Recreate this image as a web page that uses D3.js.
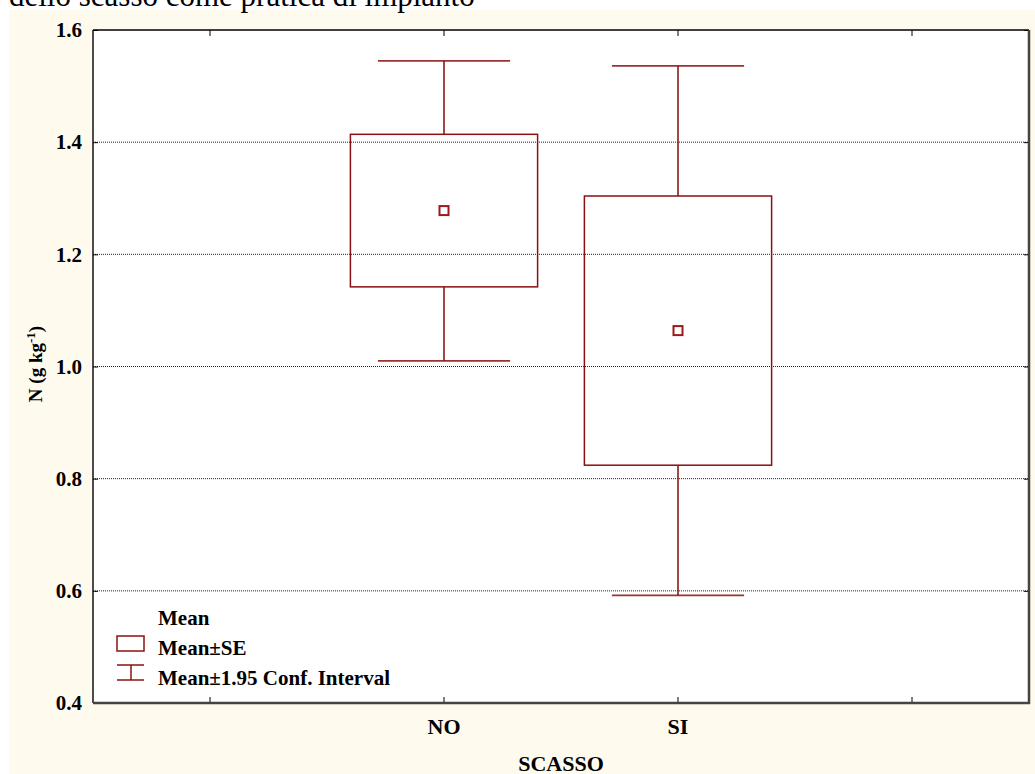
<!DOCTYPE html>
<html>
<head>
<meta charset="utf-8">
<script src="https://cdn.jsdelivr.net/npm/d3@7"></script>
<style>
  html, body { margin: 0; padding: 0; background: #ffffff; }
  svg { display: block; }
  text { font-family: "Liberation Serif", "Times New Roman", serif; }
</style>
</head>
<body>
<script>
// Nitrogen content by ground preparation (scasso): mean, ±SE box, ±1.95 CI whiskers
const categories = ["NO", "SI"];
const slots = ["_l", "NO", "SI", "_r"];
const means = [1.278, 1.064];
const seLow = [1.142, 0.824];
const seHigh = [1.414, 1.304];
const ciLow = [1.010, 0.592];
const ciHigh = [1.545, 1.536];
const yTicks = [0.4, 0.6, 0.8, 1.0, 1.2, 1.4, 1.6];
const legendLabels = ["Mean", "Mean±SE", "Mean±1.95 Conf. Interval"];

const W = 1035, H = 774;
const plot = { left: 93, top: 30, right: 1029, bottom: 703 };
const red = "#8b1010";

const svg = d3.select("body").append("svg").attr("width", W).attr("height", H);

// cream panel
svg.append("rect").attr("x", 9).attr("y", 10).attr("width", W - 9).attr("height", H - 10)
  .attr("fill", "#fffaee");

// caption line running above the panel
svg.append("text").attr("x", 9).attr("y", 6)
  .attr("font-size", 31).attr("fill", "#000")
  .text("dello scasso come pratica di impianto");

// plot area
svg.append("rect").attr("x", plot.left).attr("y", plot.top)
  .attr("width", plot.right - plot.left).attr("height", plot.bottom - plot.top)
  .attr("fill", "#ffffff");

const x = d3.scaleBand().domain(slots).range([plot.left, plot.right]).padding(0);
const y = d3.scaleLinear().domain([0.4, 1.6]).range([plot.bottom, plot.top]);
const cx = d => x(d) + x.bandwidth() / 2;

// dotted gridlines
svg.append("g").selectAll("line")
  .data(yTicks.filter(t => t > 0.4 && t < 1.6))
  .join("line")
  .attr("x1", plot.left).attr("x2", plot.right)
  .attr("y1", d => y(d)).attr("y2", d => y(d))
  .attr("stroke", "#222").attr("stroke-width", 1)
  .attr("stroke-dasharray", "1,1");

// y axis
const yAxis = svg.append("g").attr("transform", `translate(${plot.left},0)`)
  .call(d3.axisLeft(y).tickValues(yTicks).tickFormat(d3.format(".1f"))
    .tickSizeInner(-5).tickSizeOuter(0).tickPadding(11));
yAxis.select(".domain").remove();
yAxis.selectAll("line").attr("stroke", "#000");
yAxis.selectAll("text").attr("font-size", 21).attr("font-weight", "bold")
  .attr("font-family", "Liberation Serif, serif").attr("fill", "#000");

// right axis ticks
const yAxisR = svg.append("g").attr("transform", `translate(${plot.right},0)`)
  .call(d3.axisRight(y).tickValues(yTicks).tickFormat("").tickSizeInner(-5).tickSizeOuter(0));
yAxisR.select(".domain").remove();
yAxisR.selectAll("line").attr("stroke", "#000");

// x axis
const xAxis = svg.append("g").attr("transform", `translate(0,${plot.bottom})`)
  .call(d3.axisBottom(x).tickFormat(d => categories.includes(d) ? d : "")
    .tickSizeInner(-6).tickSizeOuter(0).tickPadding(15));
xAxis.select(".domain").remove();
xAxis.selectAll("line").attr("stroke", "#000");
xAxis.selectAll("text").attr("font-size", 22).attr("font-weight", "bold")
  .attr("font-family", "Liberation Serif, serif").attr("fill", "#000");

// top axis ticks
const xAxisT = svg.append("g").attr("transform", `translate(0,${plot.top})`)
  .call(d3.axisTop(x).tickFormat("").tickSizeInner(-6).tickSizeOuter(0));
xAxisT.select(".domain").remove();
xAxisT.selectAll("line").attr("stroke", "#000");

// frame: thin top/left, heavier right/bottom
svg.append("line").attr("x1", plot.left).attr("x2", plot.right).attr("y1", plot.top).attr("y2", plot.top)
  .attr("stroke", "#000").attr("stroke-width", 1.5);
svg.append("line").attr("x1", plot.left).attr("x2", plot.left).attr("y1", plot.top).attr("y2", plot.bottom)
  .attr("stroke", "#111").attr("stroke-width", 1.5);
svg.append("line").attr("x1", plot.right).attr("x2", plot.right).attr("y1", plot.top).attr("y2", plot.bottom + 1)
  .attr("stroke", "#444").attr("stroke-width", 2.5);
svg.append("line").attr("x1", plot.left).attr("x2", plot.right + 1).attr("y1", plot.bottom).attr("y2", plot.bottom)
  .attr("stroke", "#444").attr("stroke-width", 2.5);

// boxes and whiskers
const boxW = x.bandwidth() * 0.8;
const capW = x.bandwidth() * 0.565;
const g = svg.append("g");
categories.forEach((c, i) => {
  const xc = cx(c);
  const grp = g.append("g");
  // whiskers
  grp.append("line").attr("x1", xc).attr("x2", xc).attr("y1", y(ciHigh[i])).attr("y2", y(seHigh[i]))
    .attr("stroke", red).attr("stroke-width", 1.8).attr("opacity", 0.85);
  grp.append("line").attr("x1", xc).attr("x2", xc).attr("y1", y(seLow[i])).attr("y2", y(ciLow[i]))
    .attr("stroke", red).attr("stroke-width", 1.8).attr("opacity", 0.85);
  [ciHigh[i], ciLow[i]].forEach(v => {
    grp.append("line").attr("x1", xc - capW / 2).attr("x2", xc + capW / 2).attr("y1", y(v)).attr("y2", y(v))
      .attr("stroke", red).attr("stroke-width", 1.8).attr("opacity", 0.85);
  });
  // SE box
  grp.append("rect").attr("x", xc - boxW / 2).attr("y", y(seHigh[i]))
    .attr("width", boxW).attr("height", y(seLow[i]) - y(seHigh[i]))
    .attr("fill", "none").attr("stroke", red).attr("stroke-width", 1.5);
  // mean marker
  grp.append("rect").attr("x", xc - 4.5).attr("y", y(means[i]) - 4.5)
    .attr("width", 9).attr("height", 9)
    .attr("fill", "#fff").attr("stroke", "#9a1a1a").attr("stroke-width", 2);
});

// legend
const lg = svg.append("g");
const lx = 117, lw = 27, tx = 158;
lg.append("rect").attr("x", lx).attr("y", 636).attr("width", lw).attr("height", 15)
  .attr("fill", "none").attr("stroke", red).attr("stroke-width", 1.5);
lg.append("line").attr("x1", lx).attr("x2", lx + lw).attr("y1", 665).attr("y2", 665)
  .attr("stroke", red).attr("stroke-width", 1.5);
lg.append("line").attr("x1", lx + 14).attr("x2", lx + 14).attr("y1", 665).attr("y2", 680)
  .attr("stroke", red).attr("stroke-width", 1.5);
lg.append("line").attr("x1", lx).attr("x2", lx + lw).attr("y1", 680).attr("y2", 680)
  .attr("stroke", red).attr("stroke-width", 1.5);
lg.selectAll("text").data(legendLabels).join("text")
  .attr("x", tx).attr("y", (d, i) => [625, 655, 685][i])
  .attr("font-size", 21).attr("font-weight", "bold").attr("fill", "#000")
  .text(d => d);

// axis titles
svg.append("text").attr("x", cx("NO") + (cx("SI") - cx("NO")) / 2).attr("y", 771)
  .attr("text-anchor", "middle").attr("font-size", 22).attr("font-weight", "bold")
  .text("SCASSO");

const yt = svg.append("text")
  .attr("transform", `translate(42,364) rotate(-90)`)
  .attr("text-anchor", "middle").attr("font-size", 19).attr("font-weight", "bold");
yt.append("tspan").text("N (g kg");
yt.append("tspan").attr("dy", -7).attr("font-size", 13).text("-1");
yt.append("tspan").attr("dy", 7).text(")");
</script>
</body>
</html>
